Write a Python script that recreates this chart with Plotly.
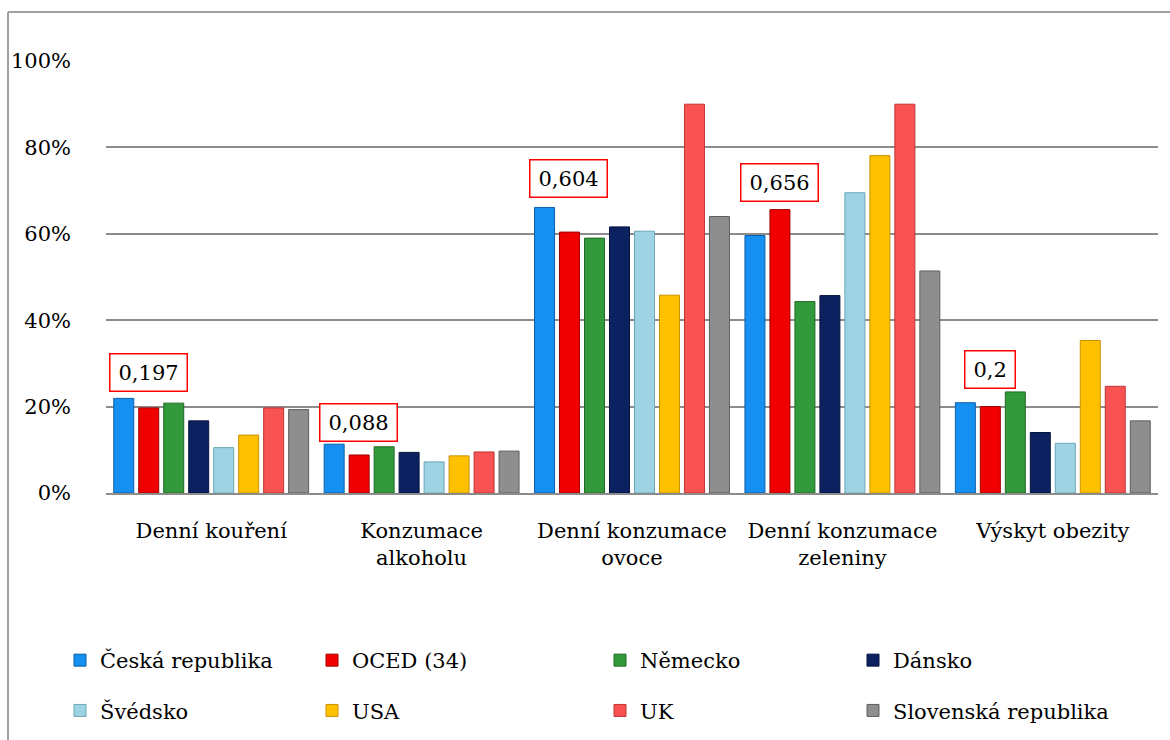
import plotly.graph_objects as go

# Indicator categories (x axis)
categories = [
    "Denní kouření",
    "Konzumace<br>alkoholu",
    "Denní konzumace<br>ovoce",
    "Denní konzumace<br>zeleniny",
    "Výskyt obezity",
]

# Share of population per country, one list per series
ceska = [0.219, 0.113, 0.661, 0.596, 0.209]
oced = [0.197, 0.088, 0.604, 0.656, 0.2]
nemecko = [0.208, 0.107, 0.590, 0.443, 0.234]
dansko = [0.167, 0.094, 0.616, 0.457, 0.140]
svedsko = [0.105, 0.072, 0.606, 0.695, 0.115]
usa = [0.134, 0.086, 0.458, 0.781, 0.353]
uk = [0.197, 0.095, 0.900, 0.900, 0.247]
slovensko = [0.193, 0.097, 0.640, 0.514, 0.167]

series_names = ["Česká republika", "OCED (34)", "Německo", "Dánsko",
                "Švédsko", "USA", "UK", "Slovenská republika"]
series_values = [ceska, oced, nemecko, dansko, svedsko, usa, uk, slovensko]
series_colors = ["#1690f0", "#f00000", "#329a3a", "#0c2260",
                 "#9dd3e3", "#ffc000", "#f85252", "#8e8e8e"]
series_edges = ["#0b5fa8", "#a00000", "#1f6a26", "#06143d",
                "#6aa6b8", "#c89200", "#c03434", "#5e5e5e"]
# which legend column each series goes into
legend_ids = ["legend", "legend2", "legend3", "legend4",
              "legend", "legend2", "legend3", "legend4"]

# Boxed value labels (OECD values)
label_text = ["0,197", "0,088", "0,604", "0,656", "0,2"]
label_y = [0.279, 0.163, 0.729, 0.719, 0.285]

FONT = "DejaVu Serif"
FS = 21

fig = go.Figure()
xs = list(range(len(categories)))
for name, vals, col, edge, lg in zip(series_names, series_values, series_colors,
                                      series_edges, legend_ids):
    fig.add_trace(go.Bar(
        x=xs, y=vals, name=name, legend=lg, legendgroup=name,
        marker=dict(color=col, line=dict(color=edge, width=1)),
        hoverinfo="skip",
    ))

# value labels in red boxes
def text_width(s):
    w = 0.0
    for ch in s:
        w += 0.318 if ch == "," else 0.636
    return w * FS

for i, (t, y) in enumerate(zip(label_text, label_y)):
    fig.add_annotation(
        x=i - 0.30, y=y, xref="x", yref="y", text=t, showarrow=False,
        font=dict(family=FONT, size=FS, color="black"),
        bgcolor="white", bordercolor="#ff0000", borderwidth=1.5,
        borderpad=0, width=text_width(t) + 16, height=36,
        xanchor="center", yanchor="middle",
    )

# outer frame (left and top edges)
W, H = 1170, 740
fig.add_shape(type="line", xref="paper", yref="paper",
              x0=(8 - 106) / 1052, x1=(8 - 106) / 1052,
              y0=(493 - 740) / 432, y1=(493 - 12) / 432,
              line=dict(color="#a0a0a0", width=2))
fig.add_shape(type="line", xref="paper", yref="paper",
              x0=(8 - 106) / 1052, x1=(1172 - 106) / 1052,
              y0=(493 - 12) / 432, y1=(493 - 12) / 432,
              line=dict(color="#a0a0a0", width=2))

legend_style = dict(
    orientation="v", font=dict(family=FONT, size=FS, color="black"),
    bgcolor="rgba(0,0,0,0)", tracegroupgap=20, itemclick=False,
    itemdoubleclick=False, xanchor="left", yanchor="top",
    xref="container", yref="container",
)
legend_x_px = [60, 312, 600, 853]
legend_top_px = 640
legends = {}
for key, px in zip(["legend", "legend2", "legend3", "legend4"], legend_x_px):
    legends[key] = dict(legend_style, x=px / W, y=1 - legend_top_px / H)

fig.update_layout(
    width=W, height=H,
    margin=dict(l=106, r=12, t=61, b=247, autoexpand=False),
    paper_bgcolor="white", plot_bgcolor="white",
    barmode="group", bargap=0.05, bargroupgap=0.2,
    font=dict(family=FONT, size=FS, color="black"),
    showlegend=True,
    **legends,
)
fig.update_xaxes(
    range=[-0.5, 4.5], tickmode="array", tickvals=xs, ticktext=categories,
    showline=True, linecolor="#8c8c8c", linewidth=1.5,
    showgrid=False, ticks="", ticklabelstandoff=18,
    tickfont=dict(family=FONT, size=FS, color="black"),
)
fig.update_yaxes(
    range=[0, 1.0], tickmode="array",
    tickvals=[0, 0.2, 0.4, 0.6, 0.8, 1.0],
    ticktext=["0%", "20%", "40%", "60%", "80%", "100%"],
    showgrid=True, gridcolor="#8c8c8c", gridwidth=1.5,
    zeroline=False, showline=False, ticks="", ticklabelstandoff=34,
    tickfont=dict(family=FONT, size=FS, color="black"),
)

fig.write_html("out.html")
